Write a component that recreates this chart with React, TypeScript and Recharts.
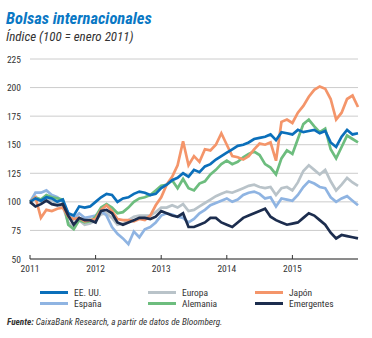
import { LineChart, Line, XAxis, YAxis, CartesianGrid } from 'recharts';

// monthly readings, Jan 2011 .. Jan 2016 (index 100 = Jan 2011)
const eeuu = [100, 103, 101, 104, 103, 100, 102, 90, 88, 96, 95, 96,
  100, 104, 107, 106, 100, 103, 104, 107, 109, 108, 106, 107,
  112, 115, 119, 121, 125, 122, 128, 126, 131, 133, 137, 140,
  143, 146, 149, 150, 152, 155, 156, 157, 159, 154, 161, 160,
  159, 163, 161, 162, 163, 160, 162, 152, 148, 157, 163, 159, 160];
const europa = [100, 103, 100, 102, 101, 98, 96, 82, 78, 84, 80, 81,
  84, 89, 90, 86, 80, 81, 84, 87, 88, 88, 88, 91,
  95, 95, 97, 95, 98, 92, 93, 96, 99, 102, 105, 107,
  109, 108, 110, 112, 114, 115, 113, 112, 113, 106, 112, 113,
  110, 117, 127, 132, 128, 124, 128, 118, 110, 115, 121, 117, 114];
const japon = [100, 104, 86, 93, 92, 94, 95, 87, 85, 86, 83, 84,
  85, 93, 97, 92, 85, 84, 84, 83, 85, 84, 88, 97,
  104, 115, 122, 132, 153, 132, 140, 135, 146, 145, 150, 160,
  150, 140, 139, 137, 140, 146, 151, 150, 152, 136, 170, 172,
  169, 178, 184, 192, 198, 201, 199, 190, 172, 178, 190, 193, 183];
const espana = [100, 108, 108, 110, 106, 104, 100, 90, 85, 90, 86, 87,
  88, 92, 88, 78, 72, 68, 63, 74, 69, 76, 78, 82,
  88, 90, 89, 87, 86, 82, 85, 90, 93, 97, 99, 101,
  103, 100, 102, 106, 108, 109, 107, 103, 104, 96, 103, 102,
  101, 106, 113, 118, 116, 113, 112, 104, 100, 103, 105, 101, 97];
const alemania = [100, 104, 102, 106, 104, 103, 102, 80, 76, 84, 82, 83,
  87, 95, 98, 95, 90, 91, 95, 100, 103, 104, 106, 110,
  114, 115, 119, 112, 120, 112, 110, 116, 118, 124, 128, 133,
  136, 133, 135, 139, 142, 144, 141, 133, 130, 124, 138, 145,
  142, 155, 168, 172, 166, 161, 164, 146, 138, 148, 158, 155, 152];
const emergentes = [100, 96, 98, 101, 98, 97, 98, 88, 80, 86, 84, 84,
  82, 92, 93, 90, 82, 80, 82, 84, 86, 86, 85, 87,
  92, 90, 88, 87, 90, 78, 78, 80, 82, 86, 86, 82,
  80, 78, 82, 86, 88, 90, 92, 94, 87, 84, 82, 80,
  81, 82, 86, 90, 88, 84, 80, 73, 68, 71, 70, 69, 68];

const yearTicks = [2011, 2012, 2013, 2014, 2015];
const valueTicks = [50, 75, 100, 125, 150, 175, 200, 225];

const series = [
  { key: 'europa', name: 'Europa', color: '#b9c3c9' },
  { key: 'espana', name: 'España', color: '#8fb4e2' },
  { key: 'alemania', name: 'Alemania', color: '#6dbd7e' },
  { key: 'japon', name: 'Japón', color: '#f4956a' },
  { key: 'eeuu', name: 'EE. UU.', color: '#0b6fba' },
  { key: 'emergentes', name: 'Emergentes', color: '#1c2d4e' },
];

const legendRows = [
  ['eeuu', 'europa', 'japon'],
  ['espana', 'alemania', 'emergentes'],
];

const data = eeuu.map((v, i) => ({
  t: 2011 + i / 12,
  eeuu: v,
  europa: europa[i],
  japon: japon[i],
  espana: espana[i],
  alemania: alemania[i],
  emergentes: emergentes[i],
}));

const font = "'Liberation Sans Narrow', 'Roboto Condensed', Lato, sans-serif";

const XTick = (props: any) => {
  const { x, y, payload } = props;
  return (
    <g>
      <line x1={x} x2={x} y1={y - 4} y2={y} stroke="#333" strokeWidth={1} />
      <text x={x} y={y + 13} textAnchor="middle" fontSize={9.5} fill="#333" fontFamily={font}>
        {payload.value}
      </text>
    </g>
  );
};

const YTick = (props: any) => {
  const { x, y, payload } = props;
  return (
    <text x={x - 9} y={y + 3.5} textAnchor="end" fontSize={9.5} fill="#333" fontFamily={font}>
      {payload.value}
    </text>
  );
};

const colLeft = [40, 148, 255];

export default function App() {
  return (
    <div style={{ position: 'absolute', left: 0, top: 0, width: 372, height: 338, background: '#fff', fontFamily: font }}>
      <div style={{ position: 'absolute', left: 6, top: 9, fontSize: 16.5, fontWeight: 'bold', fontStyle: 'italic', color: '#0a78c4', whiteSpace: 'nowrap' }}>
        Bolsas internacionales
      </div>
      <div style={{ position: 'absolute', left: 6, top: 29, fontSize: 13, fontStyle: 'italic', color: '#333', whiteSpace: 'nowrap' }}>
        Índice (100 = enero 2011)
      </div>
      <div style={{ position: 'absolute', left: 0, top: 0 }}>
        <LineChart width={372} height={285} data={data} margin={{ top: 59, right: 14, bottom: 0, left: 0 }}>
          <CartesianGrid vertical={false} stroke="#cccccc" strokeWidth={1} />
          <XAxis
            dataKey="t"
            type="number"
            domain={[2011, 2016]}
            ticks={yearTicks}
            height={26}
            tickSize={0}
            tickMargin={0}
            tickLine={false}
            axisLine={{ stroke: '#333', strokeWidth: 1 }}
            tick={XTick}
            interval={0}
          />
          <YAxis
            type="number"
            domain={[50, 225]}
            ticks={valueTicks}
            width={30}
            tickSize={0}
            tickMargin={0}
            tickLine={false}
            axisLine={false}
            tick={YTick}
            interval={0}
          />
          {series.map((s) => (
            <Line
              key={s.key}
              dataKey={s.key}
              name={s.name}
              type="linear"
              stroke={s.color}
              strokeWidth={2.7}
              dot={false}
              isAnimationActive={false}
            />
          ))}
        </LineChart>
      </div>
      {legendRows.map((row, r) =>
        row.map((k, c) => {
          const s = series.find((x) => x.key === k)!;
          return (
            <div key={k} style={{ position: 'absolute', left: colLeft[c], top: 287 + r * 11, height: 11, display: 'flex', alignItems: 'center', whiteSpace: 'nowrap' }}>
              <span style={{ display: 'inline-block', width: 28, height: 3, background: s.color, marginRight: 6 }} />
              <span style={{ fontSize: 9.5, color: '#333' }}>{s.name}</span>
            </div>
          );
        })
      )}
      <div style={{ position: 'absolute', left: 7, top: 316, fontSize: 9.2, fontStyle: 'italic', color: '#333', whiteSpace: 'nowrap' }}>
        <b>Fuente:</b> CaixaBank Research, a partir de datos de Bloomberg.
      </div>
    </div>
  );
}
